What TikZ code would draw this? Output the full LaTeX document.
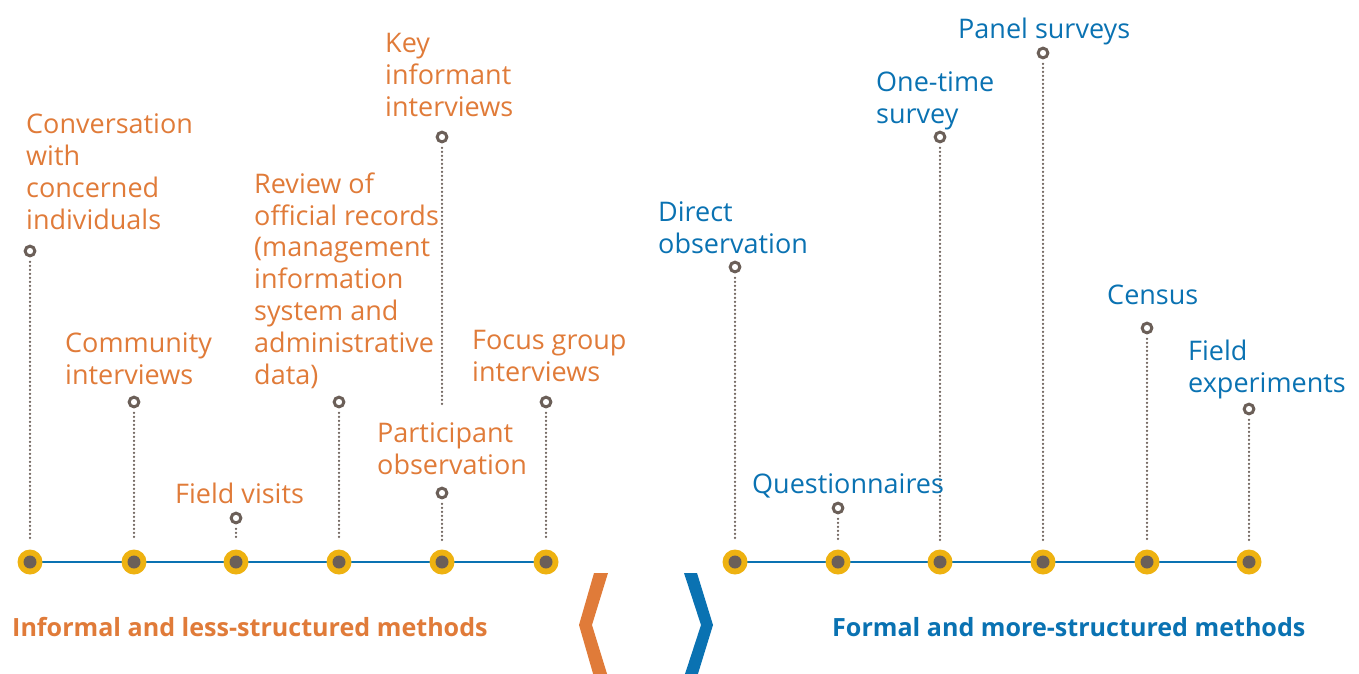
\documentclass[tikz,border=0pt]{standalone}
\usepackage{fontspec}
\setmainfont{Open Sans}
\definecolor{orng}{HTML}{E07B39}
\definecolor{blu}{HTML}{0A72B2}
\definecolor{yel}{HTML}{EEB211}
\definecolor{gry}{HTML}{6B5F58}
\tikzset{
  lbl/.style={anchor=base west, inner sep=0pt, align=left, font=\fontsize{27}{31.8}\selectfont},
  lo/.style={lbl, text=orng},
  lb/.style={lbl, text=blu},
  ring/.style={circle, draw=gry, fill=white, line width=3pt, minimum size=9.7pt, inner sep=0pt},
  bigdot/.style={circle, fill=yel, minimum size=25pt, inner sep=0pt, path picture={\fill[gry] (path picture bounding box.center) circle (6.5pt);}},
  dots/.style={draw=gry, line width=2.5pt, dash pattern=on 0pt off 4pt, line cap=round},
  axis/.style={draw=blu, line width=2pt},
  ttl/.style={anchor=base west, inner sep=0pt, font=\fontsize{25.1}{28}\selectfont\bfseries}
}
\begin{document}
\begin{tikzpicture}[x=1pt,y=-1pt]
\useasboundingbox (0,0) rectangle (1359,673);
% axes
\coordinate (la) at (30,562);
\coordinate (lb) at (546,562);
\coordinate (ra) at (735,562);
\coordinate (rb) at (1249,562);
\draw[axis] (la) -- (lb);
\draw[axis] (ra) -- (rb);
% big dots
\foreach \n/\x in {b1/30,b2/134,b3/236,b4/339,b5/442,b6/546,b7/735,b8/838,b9/940,b10/1043,b11/1147,b12/1249}
  \node[bigdot] (\n) at (\x,562) {};
% rings
\node[ring] (r1) at (30,251) {};
\node[ring] (r2) at (134,402) {};
\node[ring] (r3) at (236,518) {};
\node[ring] (r4) at (339,402) {};
\node[ring] (r5) at (442,137) {};
\node[ring] (r5b) at (442,493) {};
\node[ring] (r6) at (546,402) {};
\node[ring] (r7) at (735,267) {};
\node[ring] (r8) at (838,508) {};
\node[ring] (r9) at (940,137) {};
\node[ring] (r10) at (1043,53) {};
\node[ring] (r11) at (1147,328) {};
\node[ring] (r12) at (1249,409) {};
\coordinate (k5) at (442,405);
% dotted connectors
\foreach \i in {1,2,3,4,6,7,8,9,10,11,12}
  \path[dots] ([yshift=-4.5pt]r\i.south) -- ([yshift=9pt]b\i.north);
\path[dots] ([yshift=-4.5pt]r5.south) -- (k5);
\path[dots] ([yshift=-4.5pt]r5b.south) -- ([yshift=9pt]b5.north);
% labels (anchor = baseline of last line)
\node[lo] (t1) at (26,229) {Conversation\\with\\concerned\\individuals};
\node[lo] (t2) at (65,384) {Community\\interviews};
\node[lo] (t3) at (175,503) {Field visits};
\node[lo] (t4) at (254,384) {Review of\\official records\\(management\\information\\system and\\administrative\\data)};
\node[lo] (t5) at (385,116) {Key\\informant\\interviews};
\node[lo] (t5b) at (377,474) {Participant\\observation};
\node[lo] (t6) at (472,381) {Focus group\\interviews};
\node[lb] (t7) at (658,253) {Direct\\observation};
\node[lb] (t8) at (752,493) {Questionnaires};
\node[lb] (t9) at (876,123) {One-time\\survey};
\node[lb] (t10) at (958,38) {Panel surveys};
\node[lb] (t11) at (1107,304) {Census};
\node[lb] (t12) at (1188,392) {Field\\experiments};
% titles
\node[ttl, text=orng] (tl) at (12,636) {Informal and less-structured methods};
\node[ttl, text=blu] (tr) at (832,636) {Formal and more-structured methods};
% chevrons
\fill[orng] (594,573) -- (608,573) -- (592,625) -- (608,677) -- (594,677) -- (579,625) -- cycle;
\fill[blu] (684,573) -- (697,573) -- (713,625) -- (697,677) -- (684,677) -- (701,625) -- cycle;
\end{tikzpicture}
\end{document}
